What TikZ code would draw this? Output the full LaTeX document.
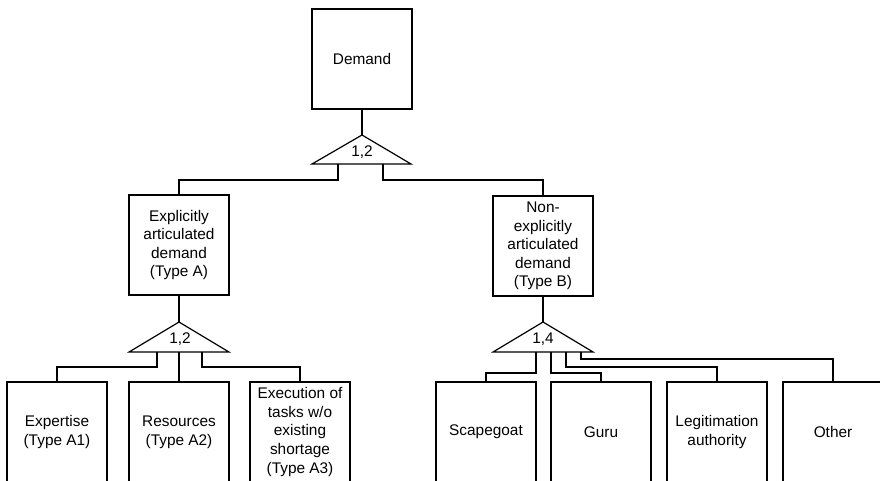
\documentclass[tikz,border=0pt]{standalone}
\usepackage{fontspec}
\setmainfont{Liberation Sans}
\begin{document}
\begin{tikzpicture}[x=1pt,y=-1pt,
  box/.style={draw,line width=1.2pt,minimum width=100pt,minimum height=100pt,
    inner sep=0pt,align=center,font=\fontsize{15.4}{18.6}\selectfont},
  lbl/.style={inner sep=0pt,font=\fontsize{15.4}{18.6}\selectfont},
  conn/.style={line width=1.2pt},
  gate/.style={line width=1.2pt,line join=miter}]
\useasboundingbox (0,0) rectangle (880,481);

% boxes
\node[box] (demand) at (362,59) {Demand};
\node[box] (expl) at (179,245) {Explicitly\\articulated\\demand\\(Type A)};
\node[box] (nonexp) at (543,246) {Non-\\explicitly\\articulated\\demand\\(Type B)};
\node[box] (expertise) at (57,432) {Expertise\\(Type A1)};
\node[box] (resources) at (179,432) {Resources\\(Type A2)};
\node[box] (execution) at (300,432) {Execution of\\tasks w/o\\existing\\shortage\\(Type A3)};
\node[box] (scape) at (486,432) {Scapegoat};
\node[box] (guru) at (601,432) {Guru};
\node[box] (legit) at (717,432) {Legitimation\\authority};
\node[box] (other) at (833,432) {Other};

% top gate
\coordinate (g0top) at (362,135);
\coordinate (g0l) at (312,164);
\coordinate (g0r) at (411,164);
\draw[gate] (g0top) -- (g0r) -- (g0l) -- cycle;
\node[lbl] (g0lbl) at (362,152) {1,2};
\coordinate (g0a) at (338,164);
\coordinate (g0b) at (383,164);

% type A gate
\coordinate (gAtop) at (179,322);
\coordinate (gAl) at (129,352);
\coordinate (gAr) at (229,352);
\draw[gate] (gAtop) -- (gAr) -- (gAl) -- cycle;
\node[lbl] (gAlbl) at (180,339) {1,2};
\coordinate (gAa) at (157,352);
\coordinate (gAb) at (179,352);
\coordinate (gAc) at (202,352);

% type B gate
\coordinate (gBtop) at (543,322);
\coordinate (gBl) at (493,352);
\coordinate (gBr) at (593,352);
\draw[gate] (gBtop) -- (gBr) -- (gBl) -- cycle;
\node[lbl] (gBlbl) at (543,339) {1,4};
\coordinate (gBa) at (536,352);
\coordinate (gBb) at (551,352);
\coordinate (gBc) at (566,352);
\coordinate (gBd) at (581,352);

% connectors
\draw[conn] (demand.south) -- (g0top);
\draw[conn] (g0a) -- ++(0,16) -| (expl.north);
\draw[conn] (g0b) -- ++(0,16) -| (nonexp.north);

\draw[conn] (expl.south) -- (gAtop);
\draw[conn] (gAa) -- ++(0,15) -| (expertise.north);
\draw[conn] (gAb) -- (resources.north);
\draw[conn] (gAc) -- ++(0,15) -| (execution.north);

\draw[conn] (nonexp.south) -- (gBtop);
\draw[conn] (gBa) -- ++(0,21) -| (scape.north);
\draw[conn] (gBb) -- ++(0,21) -| (guru.north);
\draw[conn] (gBc) -- ++(0,15) -| (legit.north);
\draw[conn] (gBd) -- ++(0,7) -| (other.north);
\end{tikzpicture}
\end{document}
